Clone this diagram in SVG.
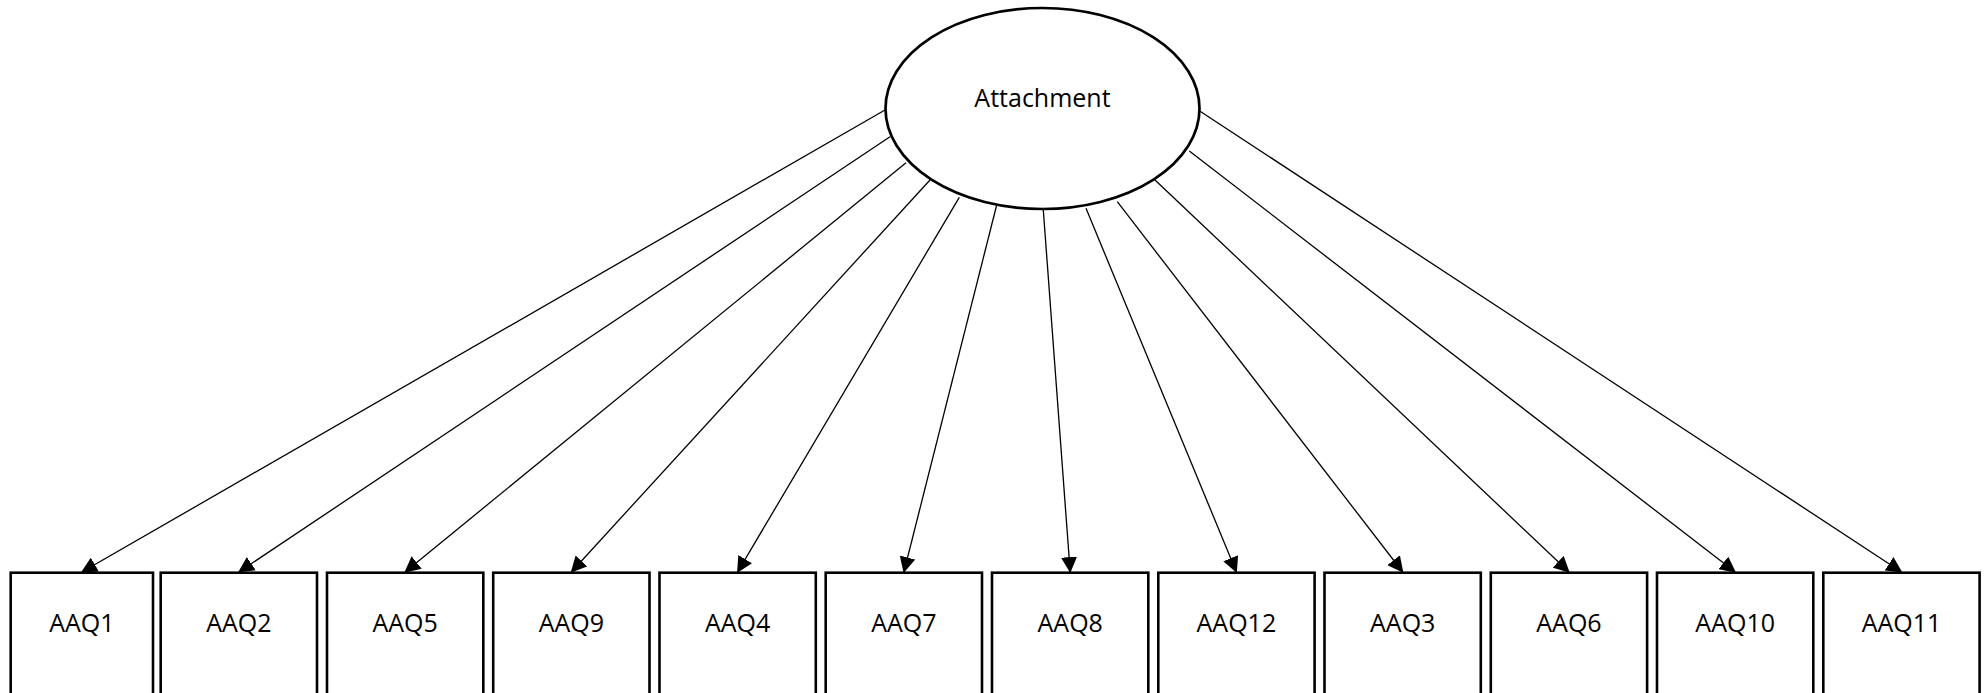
<svg xmlns="http://www.w3.org/2000/svg" width="1986" height="693" viewBox="0 0 1986 693">
<style>
.lbl{font-family:"Open Sans","Liberation Sans",sans-serif;font-size:25px;fill:#000;text-anchor:middle}
.box{fill:#fff;stroke:#000;stroke-width:2.6}
.edge{stroke:#000;stroke-width:1.3;fill:none;marker-end:url(#ah)}
</style>
<defs>
<marker id="ah" markerUnits="userSpaceOnUse" markerWidth="16" markerHeight="16" viewBox="0 0 15 15" refX="14" refY="7.5" orient="auto">
<path d="M0,0 L15,7.5 L0,15 z" fill="#000"/>
</marker>
</defs>
<rect width="1986" height="693" fill="#fff"/>
<g id="connectors">
<line class="edge" x1="885" y1="110" x2="81.9" y2="572"/>
<line class="edge" x1="890" y1="136.7" x2="238.9" y2="572"/>
<line class="edge" x1="906" y1="162.7" x2="405.1" y2="572"/>
<line class="edge" x1="930" y1="180" x2="571.4" y2="572"/>
<line class="edge" x1="959.3" y1="197.3" x2="737.6" y2="572"/>
<line class="edge" x1="996.7" y1="205" x2="903.9" y2="572"/>
<line class="edge" x1="1043.3" y1="210" x2="1070.2" y2="572"/>
<line class="edge" x1="1086" y1="208.3" x2="1236.4" y2="572"/>
<line class="edge" x1="1117.3" y1="201.7" x2="1402.7" y2="572"/>
<line class="edge" x1="1155" y1="180" x2="1569" y2="572"/>
<line class="edge" x1="1189.3" y1="151" x2="1735.2" y2="572"/>
<line class="edge" x1="1199.3" y1="110.7" x2="1901.5" y2="572"/>
</g>
<g id="attachment">
<ellipse cx="1042.5" cy="108.5" rx="157" ry="100.5" fill="#fff" stroke="#000" stroke-width="2.7"/>
<text class="lbl" x="1042.5" y="107.3">Attachment</text>
</g>
<g id="aaq1"><rect class="box" x="10.7" y="572.7" width="142.3" height="130"/><text class="lbl" x="81.9" y="632">AAQ1</text></g>
<g id="aaq2"><rect class="box" x="160.7" y="572.7" width="156.3" height="130"/><text class="lbl" x="238.9" y="632">AAQ2</text></g>
<g id="aaq5"><rect class="box" x="327" y="572.7" width="156.3" height="130"/><text class="lbl" x="405.1" y="632">AAQ5</text></g>
<g id="aaq9"><rect class="box" x="493.2" y="572.7" width="156.3" height="130"/><text class="lbl" x="571.4" y="632">AAQ9</text></g>
<g id="aaq4"><rect class="box" x="659.5" y="572.7" width="156.3" height="130"/><text class="lbl" x="737.6" y="632">AAQ4</text></g>
<g id="aaq7"><rect class="box" x="825.7" y="572.7" width="156.3" height="130"/><text class="lbl" x="903.9" y="632">AAQ7</text></g>
<g id="aaq8"><rect class="box" x="992" y="572.7" width="156.3" height="130"/><text class="lbl" x="1070.2" y="632">AAQ8</text></g>
<g id="aaq12"><rect class="box" x="1158.3" y="572.7" width="156.3" height="130"/><text class="lbl" x="1236.4" y="632">AAQ12</text></g>
<g id="aaq3"><rect class="box" x="1324.5" y="572.7" width="156.3" height="130"/><text class="lbl" x="1402.7" y="632">AAQ3</text></g>
<g id="aaq6"><rect class="box" x="1490.8" y="572.7" width="156.3" height="130"/><text class="lbl" x="1569" y="632">AAQ6</text></g>
<g id="aaq10"><rect class="box" x="1657" y="572.7" width="156.3" height="130"/><text class="lbl" x="1735.2" y="632">AAQ10</text></g>
<g id="aaq11"><rect class="box" x="1823.3" y="572.7" width="156.3" height="130"/><text class="lbl" x="1901.5" y="632">AAQ11</text></g>
</svg>
